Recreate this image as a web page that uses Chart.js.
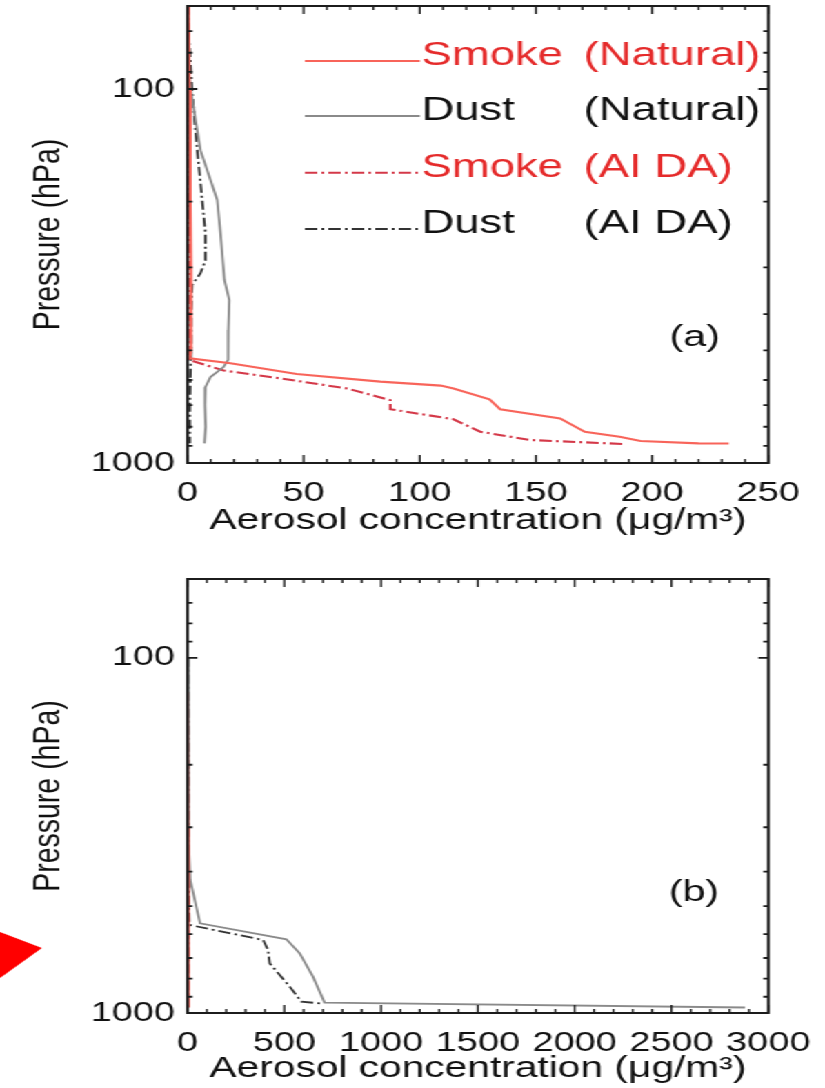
<!DOCTYPE html>
<html>
<head>
<meta charset="utf-8">
<script src="https://cdn.jsdelivr.net/npm/chart.js@4.4.0/dist/chart.umd.min.js"></script>
<style>
  body { margin: 0; background: #fff; }
  /* the source figure is stretched sideways, so draw narrow and widen the whole thing */
  #wrap { position: relative; width: 598px; height: 1088px; transform: scaleX(1.3796); transform-origin: 0 0; }
  canvas { position: absolute; left: 0; }
</style>
</head>
<body>
<div id="wrap">
  <canvas id="panelA" width="598" height="544" style="top:0"></canvas>
  <canvas id="panelB" width="598" height="544" style="top:544px"></canvas>
</div>
<script>
const FONT = "'Liberation Sans', Arial, sans-serif";

// pressure axis (hPa), log scale, 60 at top
const PRESSURE_TICKS = [100, 1000];
const PRESSURE_MINOR = [70, 80, 90, 200, 300, 400, 500, 600, 700, 800, 900];
const X_TICKS_A = [0, 50, 100, 150, 200, 250];
const X_TICKS_B = [0, 500, 1000, 1500, 2000, 2500, 3000];

const LEGEND_NAMES = ["Smoke", "Dust", "Smoke", "Dust"];
const LEGEND_RUNS = ["(Natural)", "(Natural)", "(AI DA)", "(AI DA)"];

// panel (a): pressure levels and concentrations (ug/m3)
const A_SMOKE_NAT_P = [60, 100, 200, 300, 400, 500, 525, 541, 578, 606, 621, 632, 676, 718, 760, 825, 851, 873, 886, 887];
const A_SMOKE_NAT_C = [0.5, 0.8, 1.2, 1.5, 1.5, 1.5, 1.0, 18.5, 47, 83, 109, 114.5, 130, 134.6, 160.4, 171, 186, 195, 220, 233];
const A_DUST_NAT_P = [90, 100, 146, 198, 243, 324, 367, 441, 530, 554, 589, 627, 700, 800, 886];
const A_DUST_NAT_C = [0.5, 1.3, 5.6, 12.8, 14.2, 15.9, 18, 17.6, 17.5, 15.5, 9.9, 7.7, 7.5, 7.8, 7.3];
const A_SMOKE_AI_P = [60, 100, 200, 300, 400, 500, 530, 566, 594, 632, 679, 718, 764, 825, 868, 890];
const A_SMOKE_AI_C = [0.3, 0.5, 0.5, 0.8, 1, 1, 0.5, 15.6, 40, 68.7, 87.3, 87.3, 114.5, 126, 147.5, 188.3];
const A_DUST_AI_P = [70, 102, 146, 178, 243, 287, 311, 334, 400, 507, 700, 886];
const A_DUST_AI_C = [0.5, 2, 4.2, 5.6, 7.7, 7.7, 5.6, 2, 1.5, 1.5, 1, 1];

// panel (b)
const B_SMOKE_NAT_P = [125, 300, 600, 965];
const B_SMOKE_NAT_C = [0.5, 3, 5, 5];
const B_DUST_NAT_P = [100, 200, 326, 422, 559, 620, 679, 790, 935, 965];
const B_DUST_NAT_C = [4, 6, 5, 14, 65, 511, 579, 648, 708, 2880];
const B_SMOKE_AI_P = [125, 300, 600, 965];
const B_SMOKE_AI_C = [0.3, 2, 3, 3];
const B_DUST_AI_P = [100, 200, 326, 450, 565, 623, 665, 725, 843, 929, 941];
const B_DUST_AI_C = [3, 4, 4, 6, 10, 391, 416, 425, 528, 588, 699];

const SERIES_STYLE = [
  { color: "#f8645a", dash: [], width: 2.1 },
  { color: "#8a8a8a", dash: [], width: 1.8 },
  { color: "#d43848", dash: [9, 3, 2, 3], width: 2.1 },
  { color: "#333333", dash: [9, 3, 2, 3], width: 1.8 },
];

const pts = (p, c) => p.map((v, i) => ({ x: c[i], y: v }));

function datasets(series) {
  return series.map((s, i) => ({
    data: pts(s[0], s[1]),
    borderColor: SERIES_STYLE[i].color,
    borderDash: SERIES_STYLE[i].dash,
    borderWidth: SERIES_STYLE[i].width,
    pointRadius: 0,
    tension: 0,
    fill: false,
  }));
}

// box round the plot with inward ticks on all four sides, like the IDL original
const frameTicks = {
  id: "frameTicks",
  afterDraw(chart, args, o) {
    const { ctx, chartArea: a, scales: { x, y } } = chart;
    ctx.save();
    ctx.strokeStyle = "#1c1c1c";
    ctx.lineWidth = 1.4;
    ctx.beginPath();
    for (let v = 0; v <= o.xMax + 1e-9; v += o.xMinor) {
      const px = x.getPixelForValue(v);
      const len = Math.abs(v / o.xMajor - Math.round(v / o.xMajor)) < 1e-6 ? 8 : 4;
      ctx.moveTo(px, a.bottom); ctx.lineTo(px, a.bottom - len);
      ctx.moveTo(px, a.top); ctx.lineTo(px, a.top + len);
    }
    ctx.stroke();
    ctx.lineWidth = 1.8;
    ctx.beginPath();
    PRESSURE_TICKS.concat(PRESSURE_MINOR).forEach(p => {
      const py = y.getPixelForValue(p);
      const len = PRESSURE_TICKS.includes(p) ? 7.2 : 3.6;
      ctx.moveTo(a.left, py); ctx.lineTo(a.left + len, py);
      ctx.moveTo(a.right, py); ctx.lineTo(a.right - len, py);
    });
    ctx.stroke();
    ctx.lineWidth = 2;
    ctx.strokeRect(a.left, a.top, a.right - a.left, a.bottom - a.top);
    ctx.restore();
  }
};

const annotations = {
  id: "annotations",
  afterDraw(chart, args, o) {
    const ctx = chart.ctx;
    ctx.save();
    if (o.legend) {
      chart.data.datasets.forEach((ds, i) => {
        const yb = o.rowY[i];
        ctx.strokeStyle = ds.borderColor;
        ctx.lineWidth = ds.borderWidth;
        ctx.setLineDash(ds.borderDash);
        ctx.beginPath();
        ctx.moveTo(o.x0, yb - 4); ctx.lineTo(o.x1, yb - 4);
        ctx.stroke();
        ctx.setLineDash([]);
        ctx.fillStyle = i % 2 === 0 ? "#e52b2b" : "#111";
        ctx.font = `33px ${FONT}`;
        ctx.textBaseline = "alphabetic";
        ctx.textAlign = "left";
        ctx.fillText(LEGEND_NAMES[i], o.x1 + 1, yb);
        ctx.fillText(LEGEND_RUNS[i], o.col2, yb);
      });
    }
    ctx.fillStyle = "#111";
    ctx.font = `30px ${FONT}`;
    ctx.textAlign = "center";
    ctx.textBaseline = "middle";
    ctx.fillText(o.label, o.labelX, o.labelY);
    if (o.arrow) {
      ctx.fillStyle = "#ff0000";
      ctx.beginPath();
      ctx.moveTo(0, 388); ctx.lineTo(30.4, 404); ctx.lineTo(0, 434);
      ctx.closePath();
      ctx.fill();
    }
    ctx.restore();
  }
};

function makePanel(id, cfg) {
  return new Chart(document.getElementById(id), {
    type: "line",
    data: { datasets: datasets(cfg.series) },
    options: {
      responsive: false,
      animation: false,
      devicePixelRatio: 1,
      layout: { padding: { left: 0, right: 41.1, top: cfg.top, bottom: 0 } },
      plugins: {
        legend: { display: false },
        tooltip: { enabled: false },
        frameTicks: { xMax: cfg.xMax, xMajor: cfg.xMajor, xMinor: cfg.xMinor },
        annotations: cfg.notes,
      },
      scales: {
        x: {
          type: "linear",
          min: 0,
          max: cfg.xMax,
          afterBuildTicks: s => { s.ticks = cfg.xTicks.map(v => ({ value: v })); },
          afterFit: s => { s.height = cfg.xHeight; s.paddingLeft = 0; s.paddingRight = 0; },
          grid: { display: false, drawTicks: false },
          border: { display: false },
          ticks: { font: { family: FONT, size: 27.5 }, color: "#111", padding: cfg.tickPad, maxRotation: 0, autoSkip: false, callback: v => String(v) },
          title: { display: true, text: "Aerosol concentration (μg/m³)", font: { family: FONT, size: 29.5 }, color: "#111", padding: { top: 0, bottom: cfg.titlePad } },
        },
        y: {
          type: "logarithmic",
          reverse: true,
          min: 60,
          max: 1000,
          afterBuildTicks: s => { s.ticks = PRESSURE_TICKS.map(v => ({ value: v })); },
          afterFit: s => { s.width = 135.9; s.paddingTop = 0; s.paddingBottom = 0; },
          grid: { display: false, drawTicks: false },
          border: { display: false },
          ticks: { font: { family: FONT, size: 27.5 }, color: "#111", padding: 9, callback: v => String(v) },
          title: { display: true, text: "Pressure (hPa)", font: { family: FONT, size: 28.5 }, color: "#111", padding: { top: 18, bottom: 0 } },
        },
      },
    },
    plugins: [frameTicks, annotations],
  });
}

makePanel("panelA", {
  series: [[A_SMOKE_NAT_P, A_SMOKE_NAT_C], [A_DUST_NAT_P, A_DUST_NAT_C], [A_SMOKE_AI_P, A_SMOKE_AI_C], [A_DUST_AI_P, A_DUST_AI_C]],
  top: 6, xHeight: 81, titlePad: 5, tickPad: 14,
  xMax: 250, xMajor: 50, xMinor: 10, xTicks: X_TICKS_A,
  notes: { legend: true, rowY: [65, 120, 176.7, 233], x0: 221, x1: 304.4, col2: 423, label: "(a)", labelX: 503.6, labelY: 338, arrow: false },
});

makePanel("panelB", {
  series: [[B_SMOKE_NAT_P, B_SMOKE_NAT_C], [B_DUST_NAT_P, B_DUST_NAT_C], [B_SMOKE_AI_P, B_SMOKE_AI_C], [B_DUST_AI_P, B_DUST_AI_C]],
  top: 35, xHeight: 75, titlePad: 1, tickPad: 14,
  xMax: 3000, xMajor: 500, xMinor: 100, xTicks: X_TICKS_B,
  notes: { legend: false, label: "(b)", labelX: 503, labelY: 349, arrow: true },
});
</script>
</body>
</html>
